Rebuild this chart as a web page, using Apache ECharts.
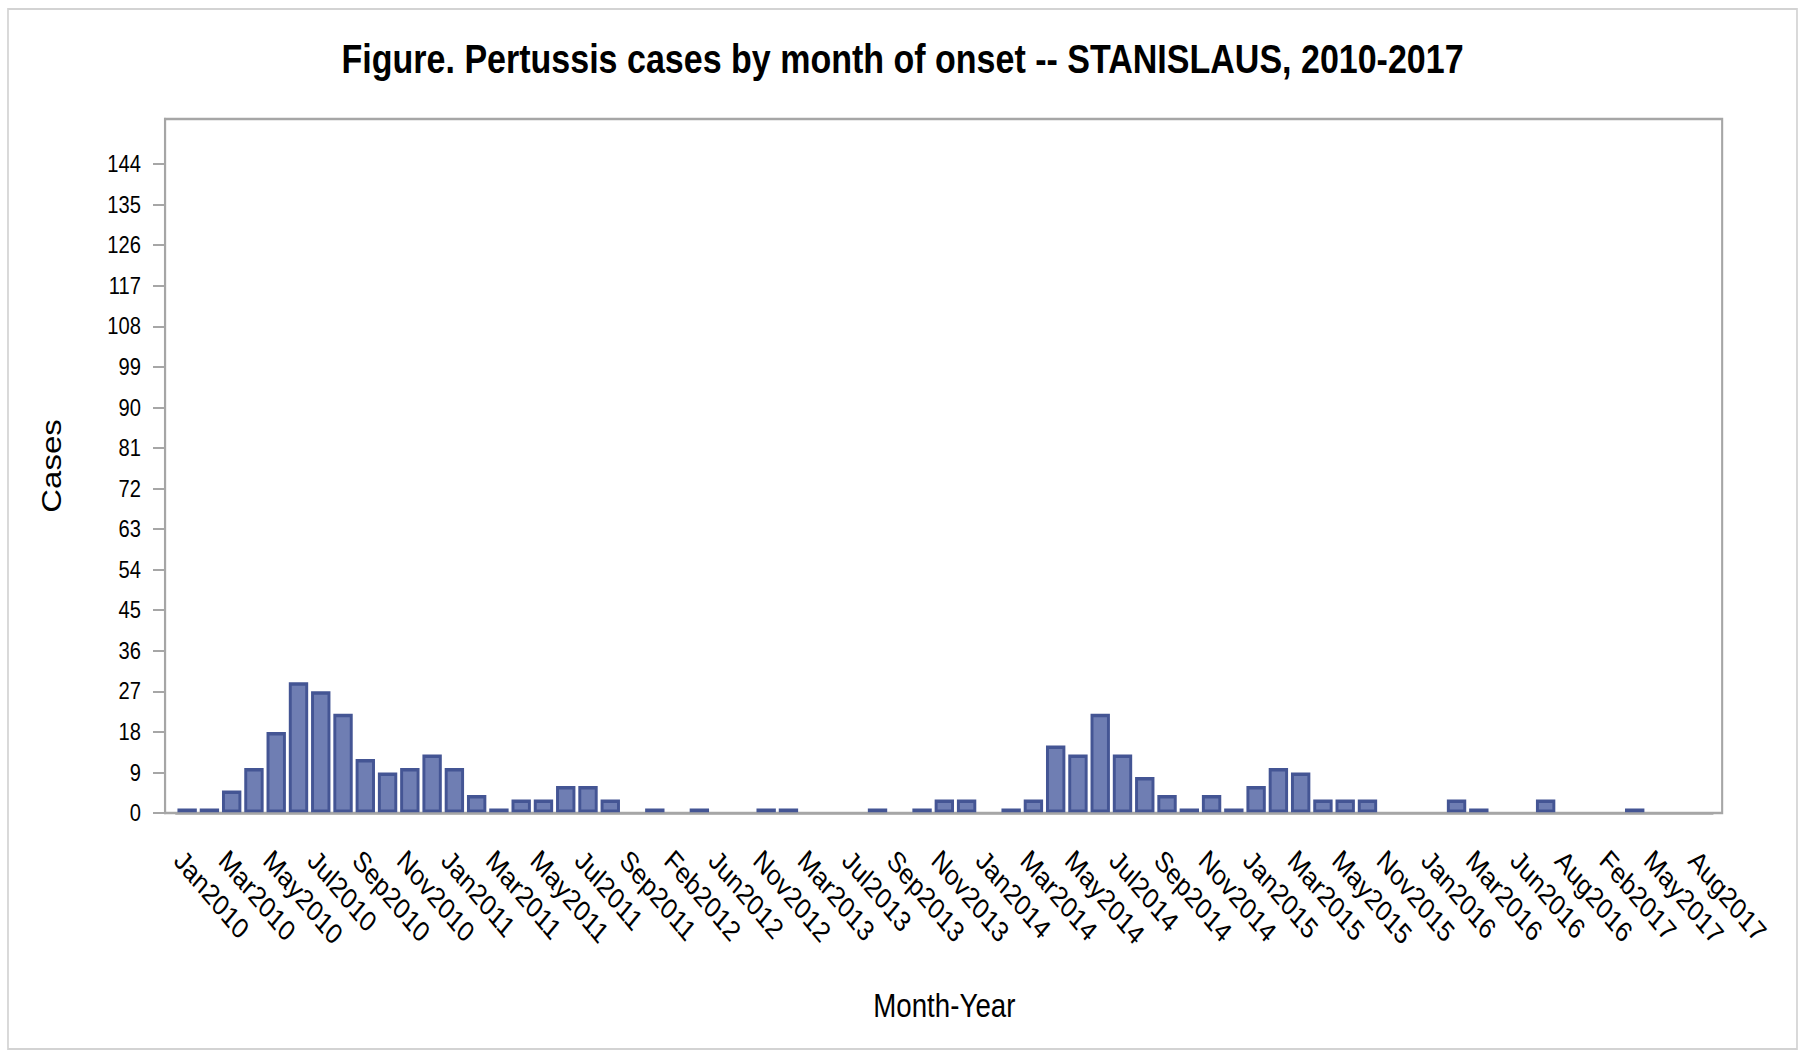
<!DOCTYPE html>
<html>
<head>
<meta charset="utf-8">
<script src="https://cdn.jsdelivr.net/npm/echarts@6/dist/echarts.min.js"></script>
<style>
html, body { margin: 0; padding: 0; background: #fff; overflow: hidden; }
#wrap { width: 1805px; height: 1052px; overflow: hidden; }
#chart { height: 1052px; transform-origin: 0 0; }
</style>
</head>
<body>
<div id="wrap"><div id="chart"></div></div>
<script>
// month categories (only every other one is labelled on the axis)
const months = [
	"Jan2010", "Feb2010", "Mar2010", "Apr2010", "May2010", "Jun2010", "Jul2010", "Aug2010",
	"Sep2010", "Oct2010", "Nov2010", "Dec2010", "Jan2011", "Feb2011", "Mar2011", "Apr2011",
	"May2011", "Jun2011", "Jul2011", "Aug2011", "Sep2011", "Dec2011", "Feb2012", "Apr2012",
	"Jun2012", "Aug2012", "Nov2012", "Jan2013", "Mar2013", "May2013", "Jul2013", "Aug2013",
	"Sep2013", "Oct2013", "Nov2013", "Dec2013", "Jan2014", "Feb2014", "Mar2014", "Apr2014",
	"May2014", "Jun2014", "Jul2014", "Aug2014", "Sep2014", "Oct2014", "Nov2014", "Dec2014",
	"Jan2015", "Feb2015", "Mar2015", "Apr2015", "May2015", "Jul2015", "Nov2015", "Dec2015",
	"Jan2016", "Feb2016", "Mar2016", "May2016", "Jun2016", "Jul2016", "Aug2016", "Dec2016",
	"Feb2017", "Apr2017", "May2017", "Jul2017", "Aug2017"
];
const cases = [
	1, 1, 5, 10, 18, 29, 27, 22,
	12, 9, 10, 13, 10, 4, 1, 3,
	3, 6, 6, 3, 0, 1, 0, 1,
	0, 0, 1, 1, 0, 0, 0, 1,
	0, 1, 3, 3, 0, 1, 3, 15,
	13, 22, 13, 8, 4, 1, 4, 1,
	6, 10, 9, 3, 3, 3, 0, 0,
	0, 3, 1, 0, 0, 3, 0, 0,
	0, 1, 0, 0, 0
];
const yTicks = [0, 9, 18, 27, 36, 45, 54, 63, 72, 81, 90, 99, 108, 117, 126, 135, 144];

// the original figure is squeezed sideways (narrow-looking Arial), so the chart is
// laid out wider and then scaled back horizontally
const SX = 0.84;
const W = 1805;
const px = v => v / SX;

const font = "'Liberation Sans', Arial, sans-serif";
const axisGray = "#a6a6a6";

const dom = document.getElementById("chart");
dom.style.width = px(W) + "px";
dom.style.transform = "scaleX(" + SX + ")";

const chart = echarts.init(dom, null, { renderer: "svg" });
chart.setOption({
	animation: false,
	backgroundColor: "#fff",
	title: {
		text: "Figure. Pertussis cases by month of onset -- STANISLAUS, 2010-2017",
		left: "center",
		top: 33,
		textStyle: { fontFamily: font, fontSize: 40.5, fontWeight: "bold", color: "#000" }
	},
	graphic: [
		{
			type: "rect",
			silent: true,
			shape: { x: px(8), y: 9, width: px(1789), height: 1040 },
			style: { fill: "none", stroke: "#d3d3d3", lineWidth: 2 }
		}
	],
	grid: [
		// outer frame of the plot area
		{ left: px(165), right: px(83), top: 119, bottom: 239, show: true, borderColor: axisGray, borderWidth: 2.5 },
		// data area (SAS leaves a little padding inside the frame)
		{ left: px(176), right: px(92.5), top: 119, bottom: 239 }
	],
	xAxis: {
		gridIndex: 1,
		type: "category",
		data: months,
		z: 5,
		name: "Month-Year",
		nameLocation: "middle",
		nameGap: 176,
		nameTextStyle: { fontFamily: font, fontSize: 33, color: "#000" },
		axisLine: { lineStyle: { color: axisGray, width: 2.5 } },
		axisTick: { alignWithLabel: true, interval: 1, length: 20, lineStyle: { color: axisGray, width: 2.4 } },
		axisLabel: {
			interval: 1, rotate: -45, margin: 32, verticalAlign: "top",
			fontFamily: font, fontSize: 29, color: "#000"
		}
	},
	yAxis: {
		gridIndex: 1,
		type: "value",
		min: 0,
		max: 154,
		interval: 9,
		offset: px(11),
		name: "Cases",
		nameLocation: "middle",
		nameGap: px(100),
		nameTextStyle: { fontFamily: font, fontSize: 33, color: "#000" },
		splitLine: { show: false },
		axisLine: { show: true, lineStyle: { color: axisGray, width: 2.5 } },
		axisTick: { show: true, length: px(12), customValues: yTicks, lineStyle: { color: axisGray, width: 2 } },
		axisLabel: { customValues: yTicks, margin: px(24), fontFamily: font, fontSize: 24, color: "#000" }
	},
	series: [
		{
			type: "bar",
			xAxisIndex: 0,
			yAxisIndex: 0,
			data: cases.map(v => (v === 0 ? "-" : v)),
			barCategoryGap: "13%",
			itemStyle: { color: "#6f7eb3", borderColor: "#445594", borderWidth: 3.5 }
		}
	]
});
</script>
</body>
</html>
